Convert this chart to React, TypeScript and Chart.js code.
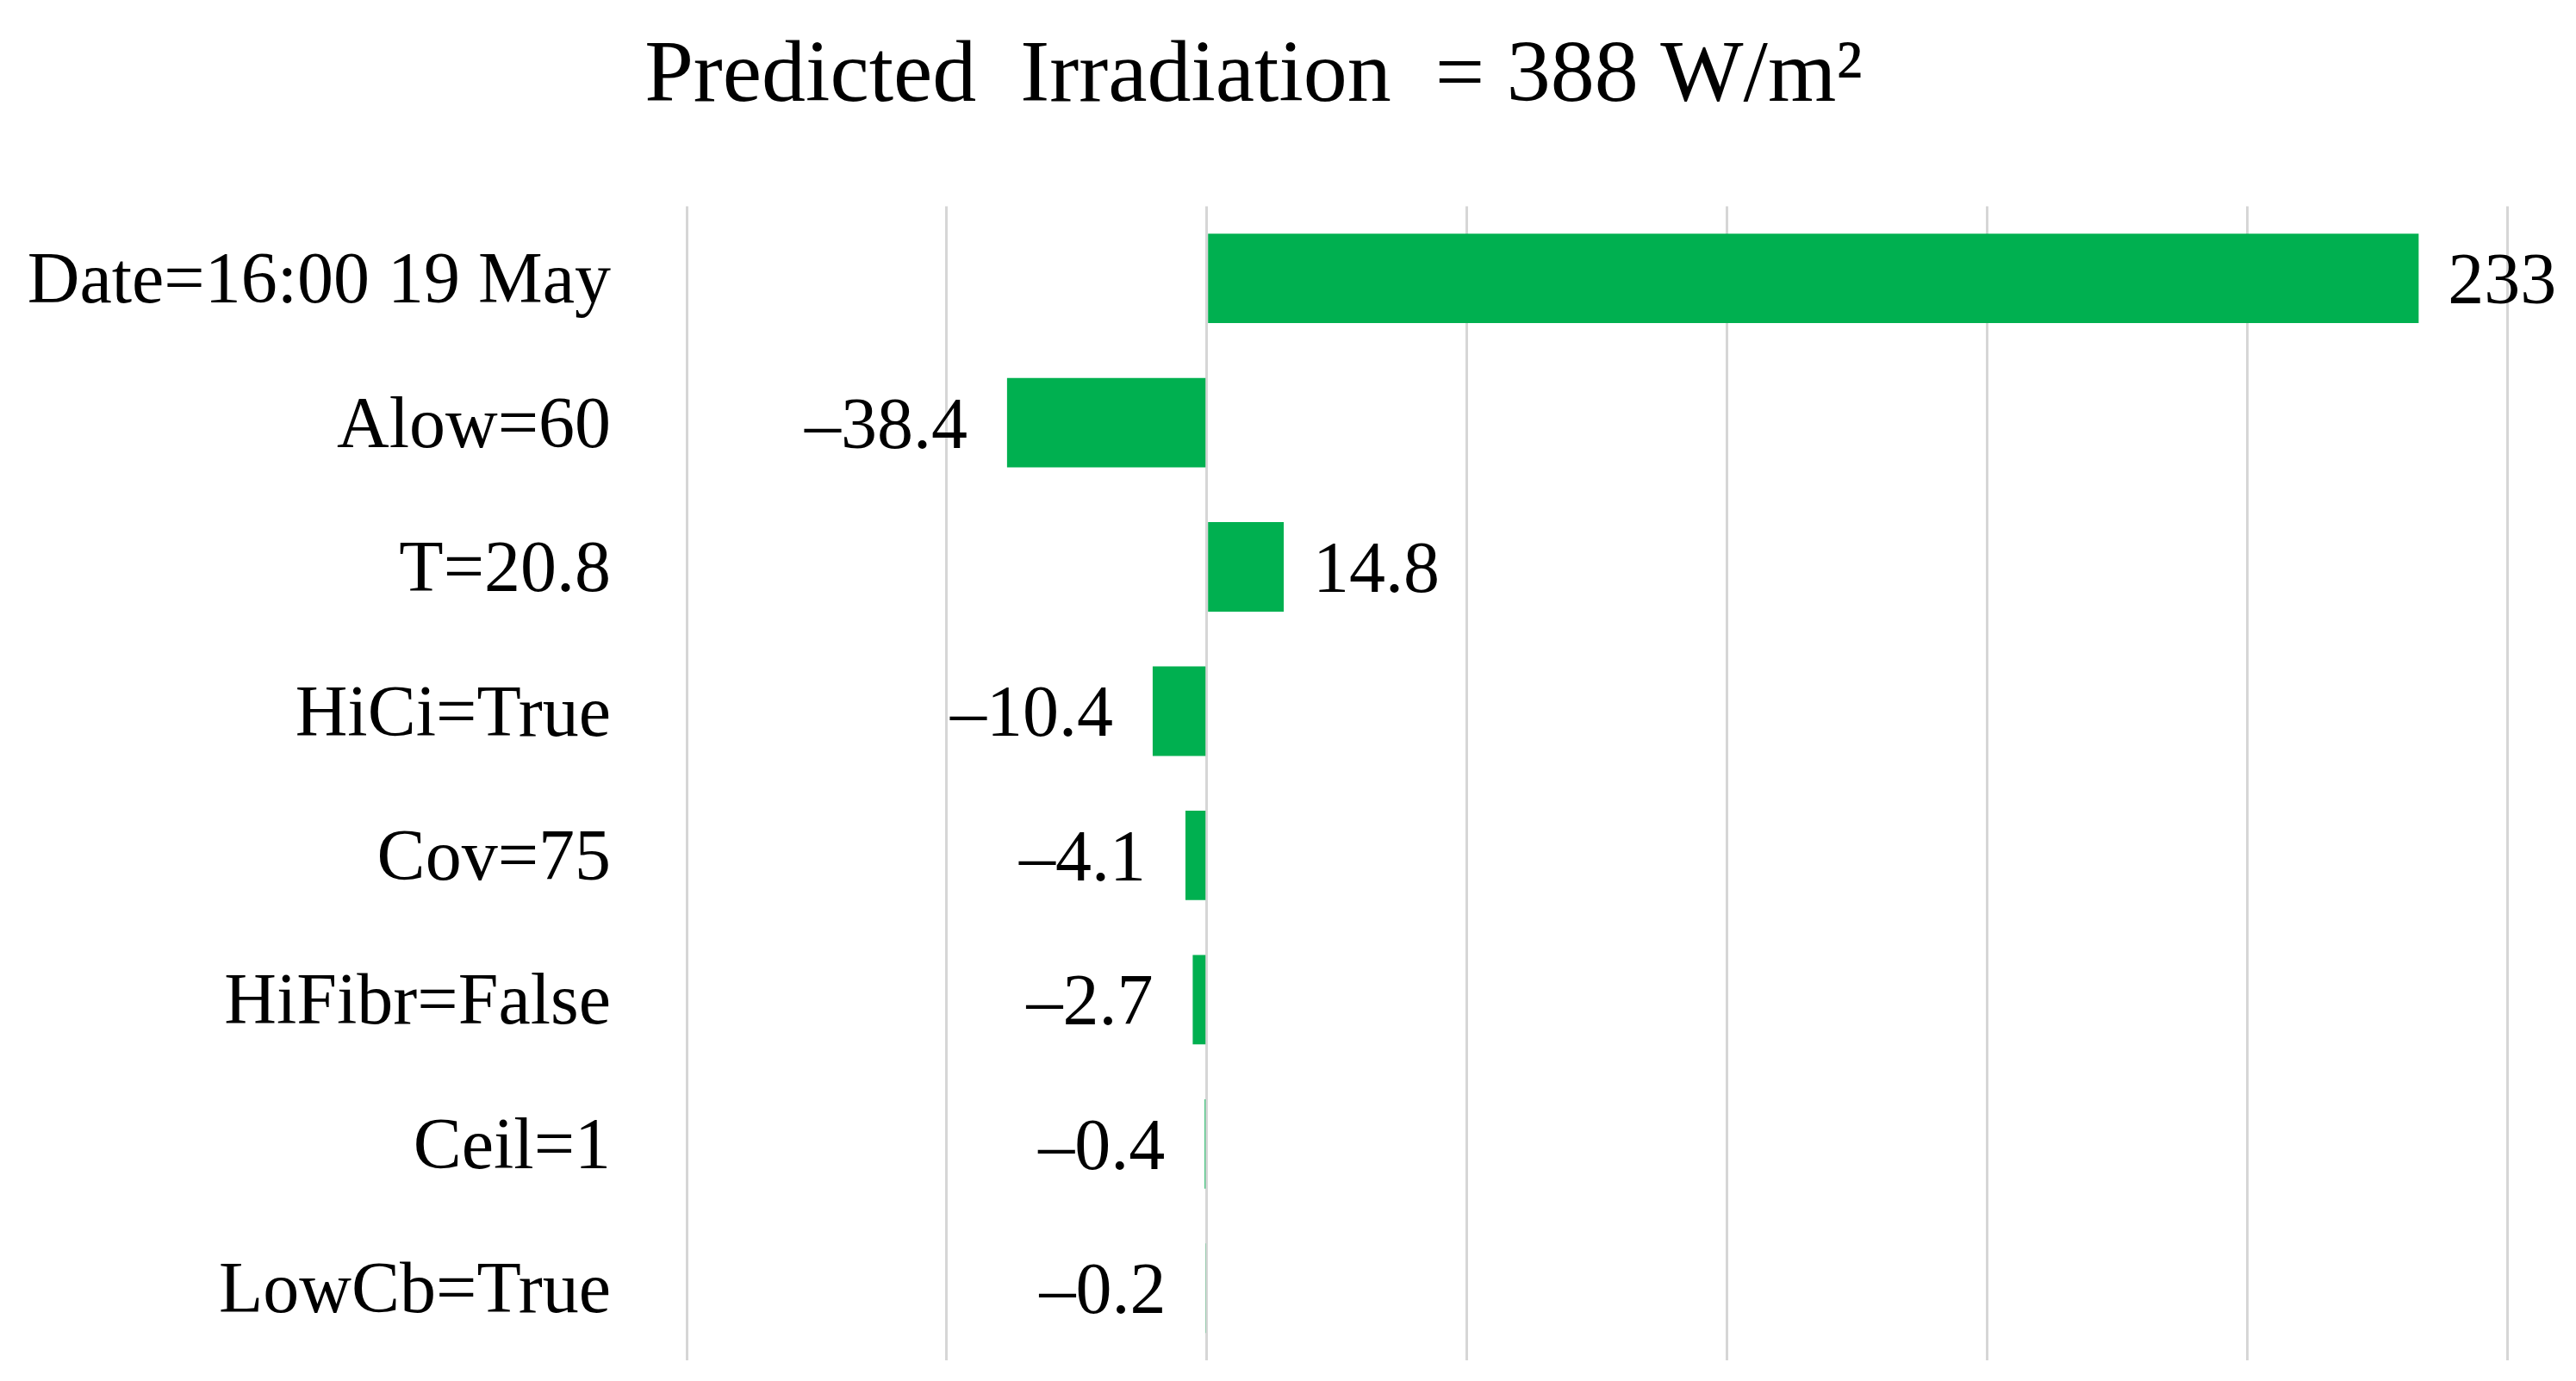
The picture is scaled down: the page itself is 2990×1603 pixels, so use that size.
import React, { useEffect, useRef } from "react";
import { Chart, registerables } from "chart.js";

Chart.register(...registerables);

const categories = [
  "Date=16:00 19 May",
  "Alow=60",
  "T=20.8",
  "HiCi=True",
  "Cov=75",
  "HiFibr=False",
  "Ceil=1",
  "LowCb=True",
];
const values = [233, -38.4, 14.8, -10.4, -4.1, -2.7, -0.4, -0.2];
const valueLabels = ["233", "–38.4", "14.8", "–10.4", "–4.1", "–2.7", "–0.4", "–0.2"];
const xMin = -100;
const xMax = 250;
const xStep = 50;
const titleText = "Predicted  Irradiation  = 388 W/m²";

const FONT = "'Liberation Serif', 'DejaVu Serif', serif";
const W = 2990;
const H = 1603;

const valueLabelPlugin = {
  id: "valueLabels",
  afterDatasetsDraw(chart: any) {
    const ctx = chart.ctx;
    const meta = chart.getDatasetMeta(0);
    ctx.save();
    ctx.font = `84px ${FONT}`;
    ctx.fillStyle = "#000000";
    ctx.textBaseline = "alphabetic";
    meta.data.forEach((bar: any, i: number) => {
      const v = values[i];
      const y = bar.y + 29;
      if (v >= 0) {
        ctx.textAlign = "left";
        ctx.fillText(valueLabels[i], bar.x + 34, y);
      } else {
        ctx.textAlign = "right";
        ctx.fillText(valueLabels[i], bar.x - 46, y);
      }
    });
    ctx.restore();
  },
};

export default function App() {
  const canvasRef = useRef<HTMLCanvasElement | null>(null);

  useEffect(() => {
    document.body.style.margin = "0";
    const canvas = canvasRef.current;
    if (!canvas) return;
    const chart = new Chart(canvas, {
      type: "bar",
      data: {
        labels: categories,
        datasets: [
          {
            data: values,
            backgroundColor: "#00B050",
            borderWidth: 0,
            barPercentage: 0.62,
            categoryPercentage: 1,
          },
        ],
      },
      options: {
        indexAxis: "y",
        animation: false,
        responsive: false,
        maintainAspectRatio: false,
        devicePixelRatio: 1,
        layout: { padding: { left: 0, right: 80, top: 0, bottom: 24 } },
        plugins: {
          legend: { display: false },
          tooltip: { enabled: false },
          title: {
            display: true,
            text: titleText,
            color: "#000000",
            font: { family: FONT, size: 102, weight: "normal" },
            padding: { top: 29, bottom: 88 },
          },
        },
        scales: {
          x: {
            type: "linear",
            min: xMin,
            max: xMax,
            ticks: { display: false, stepSize: xStep },
            grid: { color: "#D6D6D6", lineWidth: 3, drawTicks: false },
            border: { display: false },
          },
          y: {
            type: "category",
            grid: { display: false, drawTicks: false },
            border: { display: false },
            ticks: {
              color: "#000000",
              padding: 88,
              labelOffset: 6,
              font: { family: FONT, size: 84 },
            },
            afterFit(scale: any) {
              scale.width = 797;
              scale.paddingTop = 0;
              scale.paddingBottom = 0;
            },
          },
        },
      },
      plugins: [valueLabelPlugin],
    });
    return () => chart.destroy();
  }, []);

  return (
    <div style={{ width: W, height: H, background: "#ffffff" }}>
      <canvas ref={canvasRef} width={W} height={H} style={{ display: "block", width: W, height: H }} />
    </div>
  );
}
